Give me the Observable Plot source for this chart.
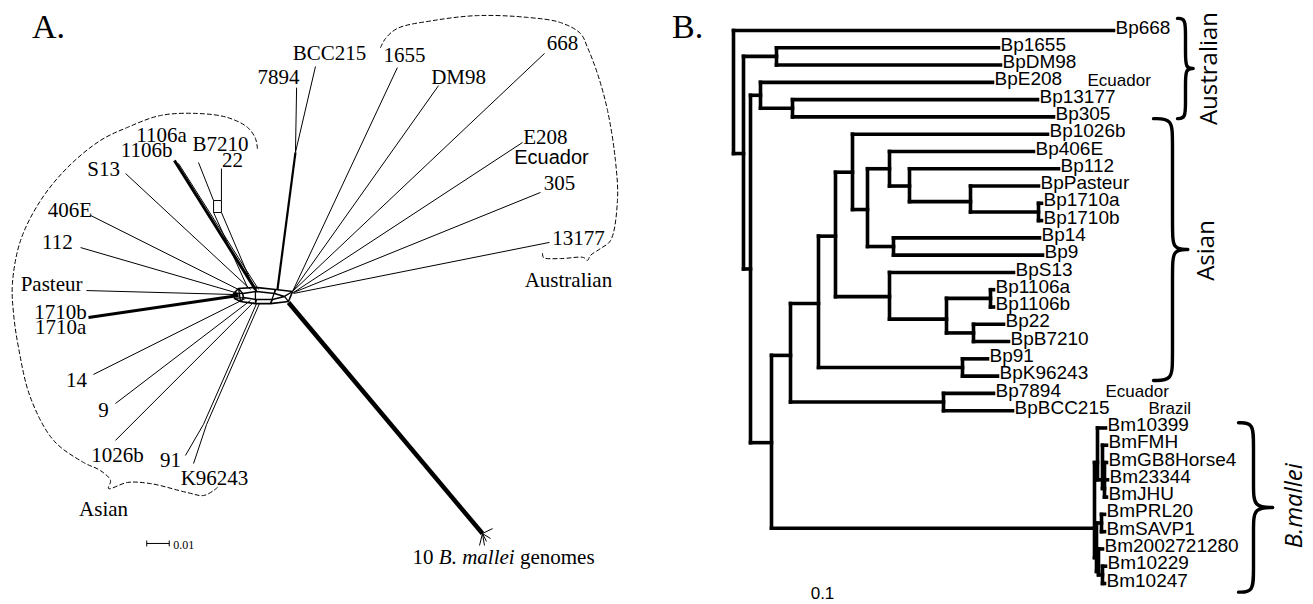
<!DOCTYPE html>
<html><head><meta charset="utf-8">
<script src="https://cdn.jsdelivr.net/npm/d3@7"></script>
<script src="https://cdn.jsdelivr.net/npm/@observablehq/plot@0.6"></script>
<style>
html,body{margin:0;padding:0;background:#fff;}
#wrap{position:relative;width:1313px;height:604px;overflow:hidden;background:#fff;}
#panelA{position:absolute;left:0;top:0;width:650px;height:604px;}
#panelB{position:absolute;left:650px;top:0;width:663px;height:604px;}
.ptitle{position:absolute;font-family:"Liberation Serif",serif;font-size:34px;line-height:34px;color:#000;}
</style></head><body>
<div id="wrap">
  <div id="panelA"></div>
  <div id="panelB"></div>
  <div class="ptitle" style="left:32px;top:10px">A.</div>
  <div class="ptitle" style="left:672px;top:10px">B.</div>
</div>
<script>
// ================= PANEL A: split network (units: 0.01 substitutions/site, origin at network centre) =================
const aTipNames = ["7894","BCC215","1655","DM98","668","E208","305","13177","S13","406E","112","Pasteur","1710","14","9","1026b","91","K96243","1106","B7210","22"];
const aTipX  = [1.16, 2.0, 5.64, 7.47, 12.18, 11.2, 12.0, 12.4, -6.44, -8.0, -8.44, -8.18, -8.09, -7.87, -6.89, -6.89, -3.78, -3.42, -4.27, -3.2, -2.18];
const aTipY  = [9.24, 10.18, 10.13, 9.33, 10.76, 6.8, 4.58, 2.36, 5.42, 3.56, 2.13, 0.22, -0.98, -3.51, -4.8, -6.44, -7.11, -7.47, 6.0, 5.91, 5.64];
const aBaseX = [1.11, 1.11, 0.98, 0.98, 0.98, 1.02, 1.02, 1.02, -0.89, -1.33, -1.42, -1.47, -1.42, -1.11, -0.89, -0.76, -2.98, -2.84, -0.67, -2.53, -2.18];
const aBaseY = [6.36, 6.36, 0.18, 0.18, 0.18, 0.13, 0.13, 0.09, 0.27, 0.22, 0.09, 0.04, 0.0, -0.13, -0.22, -0.31, -5.73, -5.73, 0.27, 4.22, 4.22];

// internal split edges
const aInnerId = ["stem7894","stem91a","stem91b","par1106","box1","box2","box3","box4","boxStemA","boxStemB","mallei","m1","m2","m3","m4","m5"];
const aInnerX1 = [1.11, -2.98, -2.84, -4.09, -2.53, -2.53, -2.18, -2.53, -2.53, -2.18, 0.8, 9.42, 9.42, 9.42, 9.42, 9.42];
const aInnerY1 = [6.36, -5.73, -5.73, 5.87, 4.22, 4.22, 4.22, 3.69, 3.69, 3.69, -0.31, -10.58, -10.58, -10.58, -10.58, -10.58];
const aInnerX2 = [0.31, -0.62, -0.49, -0.53, -2.18, -2.53, -2.18, -2.18, -1.02, -0.76, 9.42, 9.87, 9.78, 9.51, 9.29, 9.6];
const aInnerY2 = [0.27, -0.36, -0.36, 0.27, 4.22, 3.69, 3.69, 3.69, 0.36, 0.36, -10.58, -10.36, -10.8, -11.11, -11.11, -10.93];

// central web
const ringOuterX = [-1.64, -1.42, -0.67, 0.22, 0.98, 0.8, 0, -0.67, -1.33, -1.6, -1.64];
const ringOuterY = [0.09, 0.31, 0.36, 0.27, 0.18, -0.27, -0.36, -0.36, -0.27, -0.13, 0.09];
const ringInnerX = [-1.24, -0.62, 0.18, 0.62, 0.09, -0.62, -1.2, -1.24];
const ringInnerY = [0.09, 0.18, 0.09, -0.04, -0.18, -0.18, -0.09, 0.09];
const spokeOuter = [0, 1, 2, 3, 4, 5, 6, 7, 8, 9];
const spokeInner = [0, 0, 1, 2, 3, 3, 4, 5, 6, 6];

// dashed group outlines
const asianHullX = [-0.58,-0.67,-1.02,-1.91,-3.24,-4.89,-6.36,-7.56,-9.02,-10.22,-11.11,-11.47,-11.42,-11.2,-10.67,-9.64,-8.31,-7.56,-7.11,-7.2,-6.36,-5.33,-3.69,-2.98,-2.53,-2.36];
const asianHullY = [6.53,6.98,7.47,7.91,8.09,8.0,7.47,6.89,5.69,4.22,2.44,0.53,-0.8,-2.31,-4.53,-6.44,-7.42,-7.78,-8.22,-8.58,-8.31,-8.36,-8.76,-8.89,-8.67,-8.53];
const ausHullX = [4.89,5.11,5.64,7.24,9.2,11.42,12.89,13.78,14.09,14.53,14.98,15.33,15.42,15.11,14.67,14.22,14.09,13.91,12.89,12.13,12.09];
const ausHullY = [11.02,11.42,11.87,12.22,12.44,12.36,12.13,11.64,11.02,9.87,8.22,6.0,4.22,2.44,2.09,1.78,1.56,1.69,1.64,1.69,1.87];

// labels
const aLabelText = ["7894","BCC215","1655","DM98","668","E208","305","13177","S13","406E","112","Pasteur","1710b","1710a","14","9","1026b","91","K96243","1106a","1106b","B7210","22","Asian","Australian"];
const aLabelX = [0.36, 2.62, 5.96, 8.36, 12.98, 12.22, 12.84, 13.69, -7.42, -8.91, -9.47, -9.73, -9.33, -9.33, -8.62, -7.42, -6.8, -4.44, -2.49, -4.84, -5.51, -2.22, -1.69, -7.42, 13.24];
const aLabelY = [9.69, 10.76, 10.67, 9.69, 11.2, 7.02, 4.98, 2.53, 5.6, 3.78, 2.36, 0.49, -0.76, -1.42, -3.78, -5.11, -7.11, -7.33, -8.13, 7.11, 6.44, 6.71, 6.0, -9.51, 0.67];
const aNoteText = ["Ecuador"];
const aNoteX = [12.49];
const aNoteY = [6.13];
const malleiNote = ["10 B. mallei genomes"];
const malleiNoteX = [10.36];
const malleiNoteY = [-11.64];
const scaleBarX = [-5.5, -4.5]; // one unit = 0.01
const scaleBarY = -11.02;
const scaleBarLabel = "0.01";

const tipRows = aTipNames.map((name, i) => ({name, x1: aBaseX[i], y1: aBaseY[i], x2: aTipX[i], y2: aTipY[i]}));
const innerRows = aInnerId.map((id, i) => ({id, x1: aInnerX1[i], y1: aInnerY1[i], x2: aInnerX2[i], y2: aInnerY2[i]}));
const outerRing = ringOuterX.map((x, i) => ({x, y: ringOuterY[i]}));
const innerRing = ringInnerX.map((x, i) => ({x, y: ringInnerY[i]}));
const spokes = spokeOuter.map((o, i) => ({x1: ringOuterX[o], y1: ringOuterY[o], x2: ringInnerX[spokeInner[i]], y2: ringInnerY[spokeInner[i]]}));
const crossBars = [[2, 7], [3, 6], [1, 8]].map(([a, b]) => ({x1: ringOuterX[a], y1: ringOuterY[a], x2: ringOuterX[b], y2: ringOuterY[b]}));
const asianHull = asianHullX.map((x, i) => ({x, y: asianHullY[i]}));
const ausHull = ausHullX.map((x, i) => ({x, y: ausHullY[i]}));
const aLabels = aLabelText.map((t, i) => ({t, x: aLabelX[i], y: aLabelY[i]}));
const aNotes = aNoteText.map((t, i) => ({t, x: aNoteX[i], y: aNoteY[i]}));
const mNotes = malleiNote.map((t, i) => ({t, x: malleiNoteX[i], y: malleiNoteY[i]}));

const thickTips = new Set(["1710", "1106"]);
const linkXY = {x1: "x1", y1: "y1", x2: "x2", y2: "y2", stroke: "black"};

const svgA = Plot.plot({
  width: 650, height: 604, margin: 0,
  x: {axis: null, domain: [-12, 16.889]},
  y: {axis: null, domain: [-13.733, 13.111]},
  marks: [
    Plot.link(tipRows.filter(d => !thickTips.has(d.name)), {...linkXY, strokeWidth: 1}),
    Plot.link(tipRows.filter(d => thickTips.has(d.name)), {...linkXY, strokeWidth: 3}),
    Plot.link(innerRows.filter(d => d.id !== "mallei" && d.id !== "stem7894"), {...linkXY, strokeWidth: 1}),
    Plot.link(innerRows.filter(d => d.id === "stem7894"), {...linkXY, strokeWidth: 2.2}),
    Plot.link(innerRows.filter(d => d.id === "mallei"), {...linkXY, strokeWidth: 4.5}),
    Plot.line(outerRing, {x: "x", y: "y", stroke: "black", strokeWidth: 1.6}),
    Plot.line(innerRing, {x: "x", y: "y", stroke: "black", strokeWidth: 1.6}),
    Plot.link(spokes, {...linkXY, strokeWidth: 1.3}),
    Plot.link(crossBars, {...linkXY, strokeWidth: 1.3}),
    Plot.line(asianHull, {x: "x", y: "y", curve: "catmull-rom", stroke: "black", strokeWidth: 1, strokeDasharray: "4,3"}),
    Plot.line(ausHull, {x: "x", y: "y", curve: "catmull-rom", stroke: "black", strokeWidth: 1, strokeDasharray: "4,3"}),
    Plot.text(aLabels, {x: "x", y: "y", text: "t", fontFamily: "Liberation Serif", fontSize: 21, fill: "black"}),
    Plot.text(aNotes, {x: "x", y: "y", text: "t", fontFamily: "Liberation Sans", fontSize: 20, fill: "black"}),
    Plot.text(mNotes, {x: "x", y: "y", text: "t", fontFamily: "Liberation Serif", fontSize: 21, fill: "black"}),
    Plot.link([{x1: scaleBarX[0], x2: scaleBarX[1], y1: scaleBarY, y2: scaleBarY}], {...linkXY, strokeWidth: 1}),
    Plot.link(scaleBarX.map(x => ({x1: x, x2: x, y1: scaleBarY - 0.13, y2: scaleBarY + 0.13})), {...linkXY, strokeWidth: 1}),
    Plot.text([scaleBarLabel], {x: scaleBarX[1], y: scaleBarY, text: d => d, dx: 4, dy: 2, textAnchor: "start", fontFamily: "Liberation Serif", fontSize: 12, fill: "black"})
  ]
});
// italicise "B. mallei" inside the network caption
svgA.querySelectorAll("text").forEach(el => {
  if (el.textContent === malleiNote[0]) {
    el.textContent = "";
    const ns = "http://www.w3.org/2000/svg";
    [["10 ", "normal"], ["B. mallei", "italic"], [" genomes", "normal"]].forEach(([s, st]) => {
      const t = document.createElementNS(ns, "tspan");
      t.setAttribute("font-style", st);
      t.textContent = s;
      el.appendChild(t);
    });
  }
});
document.getElementById("panelA").appendChild(svgA);

// ================= PANEL B: rectangular tree (x: substitutions/site from root, y: leaf row) =================
const leafNames = ["Bp668","Bp1655","BpDM98","BpE208","Bp13177","Bp305","Bp1026b","Bp406E","Bp112","BpPasteur","Bp1710a","Bp1710b","Bp14","Bp9","BpS13","Bp1106a","Bp1106b","Bp22","BpB7210","Bp91","BpK96243","Bp7894","BpBCC215","Bm10399","BmFMH","BmGB8Horse4","Bm23344","BmJHU","BmPRL20","BmSAVP1","Bm2002721280","Bm10229","Bm10247"];
const leafDepth = [0.380,0.265,0.267,0.259,0.304,0.320,0.314,0.300,0.325,0.305,0.308,0.308,0.306,0.309,0.280,0.260,0.260,0.270,0.275,0.254,0.264,0.260,0.279,0.372,0.373,0.373,0.374,0.373,0.371,0.371,0.369,0.372,0.371];
const leafParent = ["R","N2","N2","N4","N6","N6","N12","N15","N17","N18","N19","N19","N16","N16","N13","N21","N21","N22","N22","N11","N11","N9","N9","MA","MC","MD","MD","MD","MF","MF","MG","MH","MH"];

const nodeNames  = ["R","N1","N2","N3","N4","N6","N5","N7","N9","N8","N11","N10","N12","N14","N15","N17","N18","N19","N16","N13","N20","N21","N22","M0","MA","MC","MD","MB","MF","MG","MH"];
const nodeParent = [null,"R","N1","N1","N3","N4","N3","N5","N7","N7","N8","N8","N10","N12","N14","N15","N17","N18","N14","N10","N13","N20","N20","N5","M0","MA","MC","M0","MB","MB","MG"];
const nodeDepth  = [0,0.010,0.043,0.017,0.027,0.059,0.038,0.057,0.210,0.085,0.229,0.102,0.119,0.134,0.156,0.176,0.237,0.305,0.160,0.156,0.213,0.257,0.240,0.361,0.364,0.369,0.371,0.363,0.368,0.365,0.369];
const nodeRow    = [3.5,7.12,1.5,13.8,3.75,4.5,23.85,18.8,21.5,15.8,19.5,11.9,8.2,10.36,8.0,9.0,9.9,10.5,12.5,15.4,16.7,15.5,17.5,28.8,25.0,26.0,26.5,30.5,28.5,31.3,31.5];

const noteText  = ["Ecuador","Ecuador","Brazil"];
const noteDepth = [0.354, 0.372, 0.415];
const noteRow   = [3, 21, 22];

const groupNames       = ["Australian","Asian","B.mallei"];
const groupTop         = [-0.7, 5.1, 22.7];
const groupBottom      = [5.1, 20.25, 32.5];
const groupEndDepth    = [0.444, 0.420, 0.505];
const groupBodyDepth   = [0.452, 0.439, 0.520];
const groupTipDepth    = [0.460, 0.455, 0.540];
const groupLabelDepth  = [0.476, 0.473, 0.561];
const groupLabelRow    = [2.2, 12.73, 27.5];

const scaleLabelB = ["0.1"];
const scaleLabelDepth = [0.089];
const scaleLabelRow = [32.58];

// build tree geometry from the arrays
const depthOf = new Map(nodeNames.map((n, i) => [n, nodeDepth[i]]));
const childRows = new Map(nodeNames.map(n => [n, []]));
leafNames.forEach((n, i) => childRows.get(leafParent[i]).push(i));
nodeNames.forEach((n, i) => { if (nodeParent[i]) childRows.get(nodeParent[i]).push(nodeRow[i]); });

const hSeg = [];
leafNames.forEach((n, i) => hSeg.push({x1: depthOf.get(leafParent[i]), x2: leafDepth[i], y: i}));
nodeNames.forEach((n, i) => { if (nodeParent[i]) hSeg.push({x1: depthOf.get(nodeParent[i]), x2: nodeDepth[i], y: nodeRow[i]}); });
const vSeg = nodeNames.map((n, i) => ({x: nodeDepth[i], y1: d3.min(childRows.get(n)), y2: d3.max(childRows.get(n))}));

const leaves = leafNames.map((name, i) => ({name, x: leafDepth[i], y: i}));
const notes = noteText.map((t, i) => ({t, x: noteDepth[i], y: noteRow[i]}));

const braces = [];
groupNames.forEach((g, i) => {
  const x0 = groupEndDepth[i], xb = groupBodyDepth[i], xt = groupTipDepth[i];
  const y0 = groupTop[i], y1 = groupBottom[i], ym = (y0 + y1) / 2;
  const c = Math.min(1.2, (y1 - y0) / 6);
  [[x0, y0], [xb, y0], [xb, y0 + c], [xb, ym - c], [xb, ym], [xt, ym], [xt, ym], [xb, ym], [xb, ym + c], [xb, y1 - c], [xb, y1], [x0, y1]]
    .forEach(([x, y]) => braces.push({g, x, y}));
});
const groupLabels = groupNames.map((g, i) => ({g, x: groupLabelDepth[i], y: groupLabelRow[i]}));

const svgB = Plot.plot({
  width: 663, height: 604, margin: 0,
  x: {axis: null, domain: [0, 0.58], range: [83, 663]},
  y: {axis: null, domain: [0, 32], range: [30, 583]},
  marks: [
    Plot.link(hSeg, {x1: "x1", x2: "x2", y1: "y", y2: "y", stroke: "black", strokeWidth: 3.6, strokeLinecap: "square"}),
    Plot.link(vSeg, {x1: "x", x2: "x", y1: "y1", y2: "y2", stroke: "black", strokeWidth: 3.6, strokeLinecap: "square"}),
    Plot.text(leaves, {x: "x", y: "y", text: "name", textAnchor: "start", dx: 2, dy: -3, fontFamily: "Liberation Sans", fontSize: 19, fill: "black"}),
    Plot.text(notes, {x: "x", y: "y", text: "t", textAnchor: "start", dy: -2, fontFamily: "Liberation Sans", fontSize: 17, fill: "black"}),
    Plot.line(braces, {x: "x", y: "y", z: "g", curve: "basis", stroke: "black", strokeWidth: 3.4}),
    Plot.text(groupLabels.filter(d => d.g !== "B.mallei"), {x: "x", y: "y", text: "g", rotate: -90, fontFamily: "Open Sans", fontSize: 24, fill: "black"}),
    Plot.text(groupLabels.filter(d => d.g === "B.mallei"), {x: "x", y: "y", text: "g", rotate: -90, fontFamily: "Open Sans", fontStyle: "italic", fontSize: 24, fill: "black"}),
    Plot.text(scaleLabelB.map((t, i) => ({t, x: scaleLabelDepth[i], y: scaleLabelRow[i]})), {x: "x", y: "y", text: "t", fontFamily: "Liberation Sans", fontSize: 17, fill: "black"})
  ]
});
document.getElementById("panelB").appendChild(svgB);
</script>
</body></html>
